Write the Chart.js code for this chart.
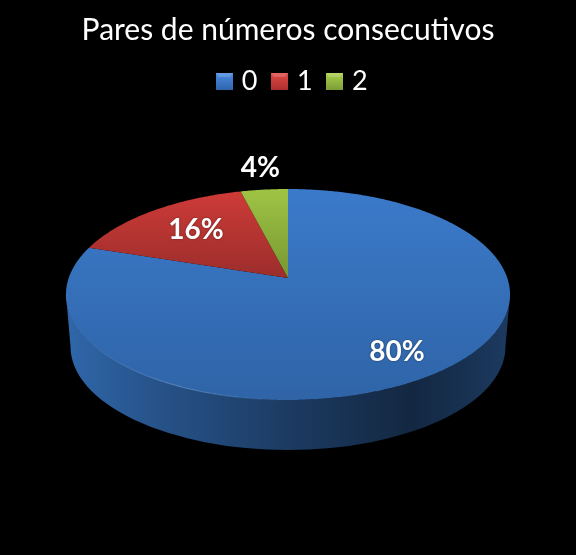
<!DOCTYPE html>
<html><head><meta charset="utf-8">
<style>html,body{margin:0;padding:0;background:#000}canvas{display:block}</style>
<script src="https://cdn.jsdelivr.net/npm/chart.js@4"></script>
</head><body><canvas id="c" width="576" height="555"></canvas>
<script>
const chartTitle = 'Pares de números consecutivos';
const categories = ['0', '1', '2'];
const percentages = [80, 16, 4];
const gradientStops = [
  {y0: 189, y1: 400, top: '#3b7aca', bottom: '#2f64a7'},
  {y0: 189, y1: 280, top: '#cf3b38', bottom: '#9a2d2b'},
  {y0: 189, y1: 280, top: '#9fc444', bottom: '#779633'}
];
const swatchColors = [['#4a8be0', '#2f66ad'], ['#e04a47', '#ad302e'], ['#a9d04c', '#7d9e36']];
const labelRadii = [0.77, 0.667, 1.3];
const labelNudgeX = [-1, 1, 2];
const labelNudgeY = [3, -1.5, 0];

const P = {cx: 288, cy: 278, A: 219.3, B: 102.9, k: 0.1564};
function project(angle, r) {
  const u = r * Math.cos(angle), v = r * Math.sin(angle), w = 1 - P.k * v;
  return [P.cx + P.A * u / w, P.cy + P.B * v / w];
}

// Each arc keeps the angles Chart.js computed from the data and draws them in perspective.
Chart.ArcElement.prototype.draw = function (ctx) {
  const {startAngle, endAngle} = this.getProps(['startAngle', 'endAngle']);
  const steps = Math.max(4, Math.ceil((endAngle - startAngle) / 0.01));
  ctx.save();
  ctx.beginPath();
  ctx.moveTo(P.cx, P.cy);
  for (let i = 0; i <= steps; i++) {
    const p = project(startAngle + (endAngle - startAngle) * i / steps, 1);
    ctx.lineTo(p[0], p[1]);
  }
  ctx.closePath();
  ctx.fillStyle = this.options.backgroundColor;
  ctx.fill();
  ctx.restore();
};

const canvas = document.getElementById('c');
const g = canvas.getContext('2d');
const fills = gradientStops.map(s => {
  const gr = g.createLinearGradient(0, s.y0, 0, s.y1);
  gr.addColorStop(0, s.top); gr.addColorStop(1, s.bottom);
  return gr;
});

function makeSwatch(pair) {
  const c = document.createElement('canvas');
  c.width = 17; c.height = 17;
  const x = c.getContext('2d');
  const gr = x.createLinearGradient(0, 0, 0, 17);
  gr.addColorStop(0, pair[0]); gr.addColorStop(1, pair[1]);
  x.fillStyle = gr; x.fillRect(0, 0, 17, 17);
  x.fillStyle = 'rgba(255,255,255,0.16)';
  x.beginPath(); x.moveTo(0, 0); x.lineTo(17, 0); x.lineTo(14, 4); x.lineTo(3, 4); x.closePath(); x.fill();
  return c;
}
const swatches = swatchColors.map(makeSwatch);

const wallPlugin = {
  id: 'wall',
  afterLayout(chart) {
    chart.legend.left += 6;
    chart.legend.right += 6;
  },
  beforeDatasetsDraw(chart) {
    const c = chart.ctx;
    const wall = c.createLinearGradient(66, 0, 510, 0);
    wall.addColorStop(0, '#2f67aa');
    wall.addColorStop(0.2, '#27538a');
    wall.addColorStop(0.5, '#1c3b62');
    wall.addColorStop(0.78, '#132741');
    wall.addColorStop(1, '#1c3a60');
    c.save();
    c.beginPath();
    c.ellipse(288, 294.5, 222, 105.5, 0, Math.PI, 0, true);
    c.ellipse(288, 346.6, 217.5, 103.4, 0, 0, Math.PI, false);
    c.closePath();
    c.fillStyle = wall;
    c.fill();
    c.restore();
  },
  afterDatasetsDraw(chart) {
    const c = chart.ctx;
    const rim = c.createLinearGradient(70, 0, 290, 0);
    rim.addColorStop(0, 'rgba(120,170,235,0.15)');
    rim.addColorStop(0.5, 'rgba(130,180,240,0.55)');
    rim.addColorStop(1, 'rgba(130,180,240,0)');
    c.save();
    c.beginPath();
    c.ellipse(288, 294.5, 222, 105.5, 0, Math.PI * 0.5, Math.PI, false);
    c.strokeStyle = rim;
    c.lineWidth = 1;
    c.stroke();
    const arcs = chart.getDatasetMeta(0).data;
    c.font = 'bold 28px Lato';
    c.textAlign = 'center';
    c.textBaseline = 'middle';
    c.fillStyle = '#fff';
    c.shadowColor = 'rgba(0,0,0,0.5)';
    c.shadowBlur = 2;
    arcs.forEach((a, i) => {
      const p = project((a.startAngle + a.endAngle) / 2, labelRadii[i]);
      c.fillText(percentages[i] + '%', p[0] + labelNudgeX[i], p[1] + labelNudgeY[i]);
    });
    c.restore();
  }
};

new Chart(canvas, {
  type: 'pie',
  plugins: [wallPlugin],
  data: {labels: categories, datasets: [{data: percentages, backgroundColor: fills, borderWidth: 0}]},
  options: {
    responsive: false,
    animation: false,
    plugins: {
      tooltip: {enabled: false},
      title: {display: true, text: chartTitle, color: '#fff', font: {family: 'Lato', size: 30, weight: 'normal'}, padding: {top: 12, bottom: 2}},
      legend: {
        position: 'top',
        labels: {
          color: '#fff', font: {family: 'Lato', size: 27}, usePointStyle: true, boxWidth: 8, boxHeight: 17, padding: 18,
          generateLabels: () => categories.map((t, i) => ({text: t, fontColor: '#fff', pointStyle: swatches[i], index: i, hidden: false, lineWidth: 0, strokeStyle: 'transparent', fillStyle: 'transparent'}))
        }
      }
    }
  }
});
</script></body></html>
